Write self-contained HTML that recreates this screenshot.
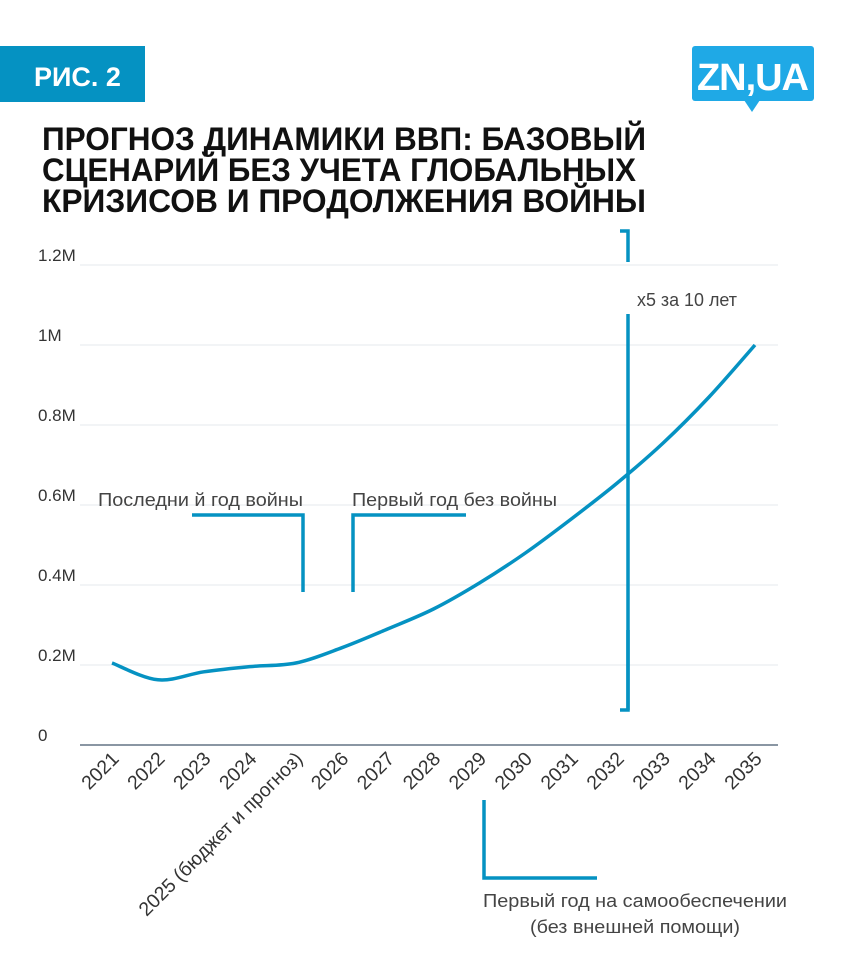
<!DOCTYPE html>
<html><head><meta charset="utf-8">
<style>
body{margin:0;background:#fff;width:861px;height:968px;overflow:hidden;font-family:"Liberation Sans",sans-serif}
svg{position:absolute;left:0;top:0}
</style></head>
<body>
<svg id="c" width="861" height="968">
<rect x="0" y="46" width="145" height="56" fill="#0592c2"/>
<text x="34" y="86" font-size="27" font-weight="bold" fill="#fff">РИС. 2</text>
<g>
<rect x="692" y="46" width="122" height="55" rx="3" fill="#1fa9e6"/>
<polygon points="744,100 760,100 752,112" fill="#1fa9e6"/>
<text x="753" y="90" font-size="38" font-weight="bold" fill="#fff" text-anchor="middle" textLength="112">ZN,UA</text>
</g>
<g font-size="32" font-weight="bold" fill="#111">
<text x="42" y="150" textLength="604" lengthAdjust="spacingAndGlyphs">ПРОГНОЗ ДИНАМИКИ ВВП: БАЗОВЫЙ</text>
<text x="42" y="181" textLength="594" lengthAdjust="spacingAndGlyphs">СЦЕНАРИЙ БЕЗ УЧЕТА ГЛОБАЛЬНЫХ</text>
<text x="42" y="212" textLength="604" lengthAdjust="spacingAndGlyphs">КРИЗИСОВ И ПРОДОЛЖЕНИЯ ВОЙНЫ</text>
</g>
<g id="grid"></g>
<g id="yt"></g>
<g id="xt"></g>
<line x1="80" y1="745" x2="778" y2="745" stroke="#8a96a3" stroke-width="2"/>
<path id="line" fill="none" stroke="#0592c2" stroke-width="3.5"/>
<g stroke="#0592c2" stroke-width="3.5" fill="none">
<polyline points="192,515 303,515 303,592"/>
<polyline points="466,515 353,515 353,592"/>
<polyline points="620,231 628,231 628,262"/>
<line x1="628" y1="314" x2="628" y2="710"/>
<polyline points="620,710 628,710 628,630"/>
<polyline points="484,800 484,878 597,878"/>
</g>
<g font-size="18.5" fill="#444">
<text x="98" y="506" textLength="205" lengthAdjust="spacingAndGlyphs">Последни й год войны</text>
<text x="352" y="506" textLength="205" lengthAdjust="spacingAndGlyphs">Первый год без войны</text>
<text x="637" y="306" textLength="100" lengthAdjust="spacingAndGlyphs">x5 за 10 лет</text>
<text x="483" y="907" textLength="304" lengthAdjust="spacingAndGlyphs">Первый год на самообеспечении</text>
<text x="530" y="933" textLength="210" lengthAdjust="spacingAndGlyphs">(без внешней помощи)</text>
</g>
</svg>
<script>
const categories=["2021","2022","2023","2024","2025 (бюджет и прогноз)","2026","2027","2028","2029","2030","2031","2032","2033","2034","2035"];
const values=[0.205,0.163,0.183,0.196,0.205,0.243,0.29,0.34,0.405,0.48,0.565,0.655,0.755,0.87,1.0];
const yTicks=[0,0.2,0.4,0.6,0.8,1.0,1.2];
const yTickLabels=["0","0.2M","0.4M","0.6M","0.8M","1M","1.2M"];
const NS="http://www.w3.org/2000/svg";
const x=i=>112+i*(755-112)/(categories.length-1);
const y=v=>745-v*400;
function mk(t,a,p){const e=document.createElementNS(NS,t);for(const k in a)e.setAttribute(k,a[k]);p.appendChild(e);return e;}
const grid=document.getElementById('grid'),yt=document.getElementById('yt'),xt=document.getElementById('xt');
yTicks.forEach((v,i)=>{
 if(v>0){const l=mk('line',{x1:80,x2:778,y1:y(v),y2:y(v),stroke:'#e6e9ee','stroke-width':1},grid);
 
 }
 const t=mk('text',{x:38,y:y(v)-4,'font-size':17,fill:'#333'},yt);
 t.textContent=yTickLabels[i];
 
 
});
categories.forEach((c,i)=>{
 const t=mk('text',{x:x(i)+8,y:760,'font-size':19.5,fill:'#333','text-anchor':'end',transform:`rotate(-45 ${x(i)+8} 760)`},xt);
 t.textContent=c;
 
 
});
const pts=values.map((v,i)=>[x(i),y(v)]);
let d=`M${pts[0][0]},${pts[0][1]}`;
for(let i=0;i<pts.length-1;i++){
 const p0=pts[Math.max(0,i-1)],p1=pts[i],p2=pts[i+1],p3=pts[Math.min(pts.length-1,i+2)];
 const c1=[p1[0]+(p2[0]-p0[0])/6,p1[1]+(p2[1]-p0[1])/6],c2=[p2[0]-(p3[0]-p1[0])/6,p2[1]-(p3[1]-p1[1])/6];
 d+=` C${c1[0]},${c1[1]} ${c2[0]},${c2[1]} ${p2[0]},${p2[1]}`;
}
document.getElementById('line').setAttribute('d',d);
</script>
</body></html>
